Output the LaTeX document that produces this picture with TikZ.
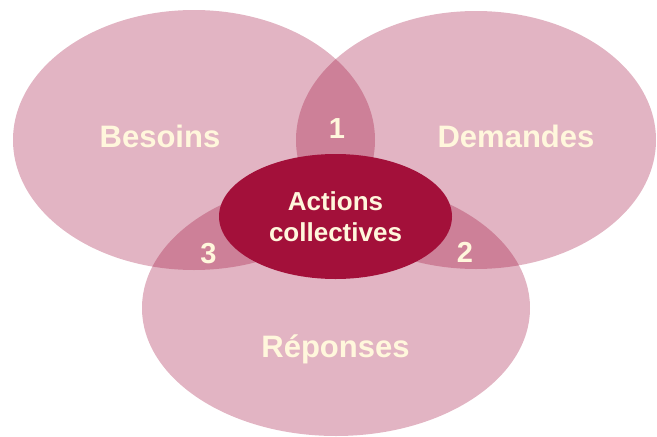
\documentclass[tikz,border=0pt]{standalone}
\usepackage{fontspec}
\setmainfont{Liberation Sans}
\usetikzlibrary{shapes.geometric}
\definecolor{petal}{RGB}{158,8,55}
\definecolor{core}{RGB}{163,16,58}
\definecolor{cream}{RGB}{255,247,220}
\begin{document}
\begin{tikzpicture}[x=1pt,y=-1pt,
  petalfill/.style={fill=petal,fill opacity=0.3,draw=none},
  biglabel/.style={text=cream,font=\bfseries\fontsize{31}{37}\selectfont,anchor=base,inner sep=0pt},
  numlabel/.style={text=cream,font=\bfseries\fontsize{29}{35}\selectfont,anchor=base,inner sep=0pt},
  corebox/.style={ellipse,fill=core,draw=none,minimum width=233pt,minimum height=125pt,inner sep=0pt,
    text=cream,align=center,font=\bfseries\fontsize{26}{31}\selectfont}]
  \useasboundingbox (0,0) rectangle (657,437);
  % three overlapping sets
  \fill[petalfill] (194,140) ellipse [x radius=181, y radius=130];
  \fill[petalfill] (476,140) ellipse [x radius=180, y radius=129];
  \fill[petalfill] (336,308) ellipse [x radius=194, y radius=128];
  % central intersection
  \node[corebox] (actions) at (335.5,216.5) {Actions\\collectives};
  % set labels
  \node[biglabel] (besoins) at (160,147.5) {Besoins};
  \node[biglabel] (demandes) at (516,147.5) {Demandes};
  \node[biglabel] (reponses) at (335.5,357) {Réponses};
  % pairwise overlap numbers
  \node[numlabel] (one) at (337,138) {1};
  \node[numlabel] (two) at (465,262) {2};
  \node[numlabel] (three) at (208.5,263) {3};
\end{tikzpicture}
\end{document}
